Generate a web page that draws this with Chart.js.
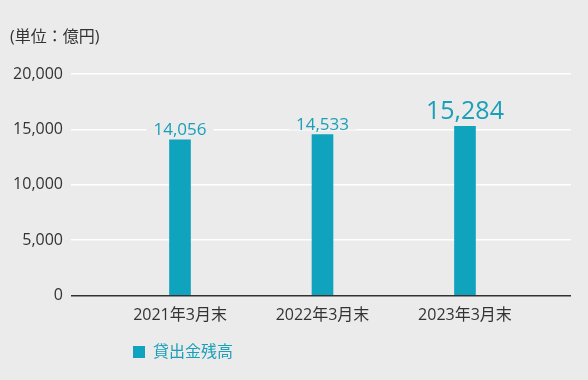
<!DOCTYPE html>
<html lang="ja">
<head>
<meta charset="utf-8">
<title>貸出金残高</title>
<script src="https://cdn.jsdelivr.net/npm/chart.js@4/dist/chart.umd.min.js"></script>
<style>
  html, body { margin: 0; padding: 0; background: #ebebeb; }
  #wrap { width: 588px; height: 380px; position: relative; }
</style>
</head>
<body>
<div id="wrap"><canvas id="chart"></canvas></div>
<script>
const categories = ["2021年3月末", "2022年3月末", "2023年3月末"];
const loanBalance = [14056, 14533, 15284];
const yTickValues = [0, 5000, 10000, 15000, 20000];
const unitLabel = "(単位：億円)";
const seriesName = "貸出金残高";

const TEAL = "#10a3bd";
const LABEL_TEAL = "#1a9fb8";
const BG = "#ebebeb";
const TEXT = "#333333";
const FONT = "'Open Sans', 'Noto Sans CJK JP', sans-serif";

// value labels above bars, last one larger, with a background box over the grid
const valueLabels = {
  id: "valueLabels",
  afterDatasetsDraw(chart) {
    const ctx = chart.ctx;
    const meta = chart.getDatasetMeta(0);
    const last = meta.data.length - 1;
    meta.data.forEach((bar, i) => {
      const size = i === last ? 25 : 17;
      const gap = i === last ? 7 : 5;
      const text = loanBalance[i].toLocaleString("en-US");
      ctx.save();
      ctx.font = `${size}px ${FONT}`;
      const w = ctx.measureText(text).width;
      ctx.fillStyle = BG;
      ctx.fillRect(bar.x - w / 2 - 7, bar.y - gap - size * 0.85, w + 14, size * 0.85);
      ctx.fillStyle = LABEL_TEAL;
      ctx.textAlign = "center";
      ctx.textBaseline = "alphabetic";
      ctx.fillText(text, bar.x, bar.y - gap);
      ctx.restore();
    });
  }
};

// move the legend under the first category instead of the far left
const legendShift = {
  id: "legendShift",
  afterLayout(chart) {
    const lg = chart.legend;
    if (!lg) return;
    const dx = chart.chartArea.left + 62 - (lg.left + lg.options.labels.padding);
    lg.left += dx;
    lg.right += dx;
    lg.top -= 6;
    lg.bottom -= 6;
  }
};

new Chart(document.getElementById("chart"), {
  type: "bar",
  data: {
    datasets: [
      {
        label: seriesName,
        data: loanBalance.map((v, i) => ({ x: i, y: v })),
        backgroundColor: TEAL,
        borderWidth: 0,
        barThickness: 21
      }
    ]
  },
  options: {
    responsive: true,
    maintainAspectRatio: false,
    animation: false,
    layout: { padding: { left: 10, right: 17, top: 0, bottom: 4 } },
    scales: {
      x: {
        type: "linear",
        offset: false,
        min: -0.765,
        max: 2.744,
        afterBuildTicks(scale) {
          scale.ticks = categories.map((_, i) => ({ value: i }));
        },
        grid: { display: false, drawTicks: false, offset: false },
        border: { display: false },
        ticks: {
          autoSkip: false,
          maxRotation: 0,
          padding: 11,
          color: TEXT,
          font: { family: FONT, size: 16 },
          callback: (v) => categories[v] ?? ""
        }
      },
      y: {
        min: 0,
        max: 20000,
        afterBuildTicks(scale) {
          scale.ticks = yTickValues.map((v) => ({ value: v }));
        },
        afterFit(scale) {
          scale.width = 61;
        },
        grid: {
          drawTicks: false,
          lineWidth: 1.5,
          color: (c) => (c.tick && c.tick.value === 0 ? TEXT : "#ffffff")
        },
        border: { display: false },
        ticks: {
          padding: 8,
          color: TEXT,
          font: { family: FONT, size: 16 },
          callback: (v) => v.toLocaleString("en-US")
        }
      }
    },
    plugins: {
      title: {
        display: true,
        text: unitLabel,
        align: "start",
        color: TEXT,
        font: { family: FONT, size: 16, weight: "normal" },
        padding: { top: 28, bottom: 27 }
      },
      legend: {
        position: "bottom",
        align: "start",
        labels: {
          boxWidth: 12,
          boxHeight: 12,
          padding: 13.5,
          color: LABEL_TEAL,
          font: { family: FONT, size: 16 }
        }
      },
      tooltip: { enabled: false }
    }
  },
  plugins: [valueLabels, legendShift]
});
</script>
</body>
</html>
